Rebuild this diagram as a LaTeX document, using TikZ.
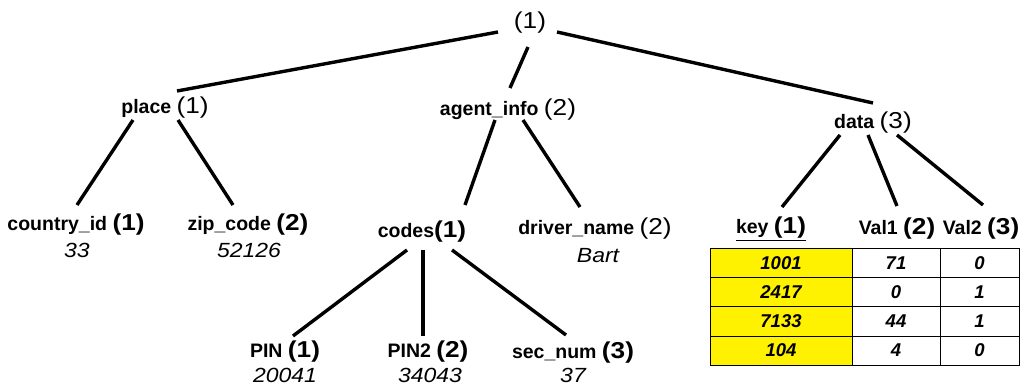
\documentclass[tikz,border=0pt]{standalone}
\usepackage{fontspec}
\setmainfont{Liberation Sans}
\usepackage{graphicx}
\newcommand\pnum[1]{{\fontsize{23}{26}\selectfont\mdseries\scalebox{1.14}[1]{#1}}}
\newcommand\pbold[1]{{\fontsize{23}{26}\selectfont\bfseries\scalebox{1.14}[1]{#1}}}
\newcommand\vtext[1]{\scalebox{1.12}[1]{#1}}
\tikzset{
  lab/.style={inner sep=0pt, font=\fontsize{19.5}{22}\selectfont\bfseries},
  val/.style={inner sep=0pt, font=\fontsize{20.5}{23}\selectfont\itshape},
  edge/.style={line width=3.4pt, black},
  cell/.style={draw=black, line width=1pt, inner sep=0pt, minimum height=29pt,
    font=\fontsize{18.5}{20}\selectfont\bfseries\itshape},
}
\begin{document}
\begin{tikzpicture}[x=1pt,y=-1pt]
\useasboundingbox (0,0) rectangle (1020,387);
% nodes
\node[inner sep=0pt] (root) at (530,23) {\pnum{(1)}};
\node[lab] (place) at (165,108) {place \pnum{(1)}};
\node[lab] (agent) at (508,110) {agent\_info \pnum{(2)}};
\node[lab] (data) at (873,123) {data \pnum{(3)}};
\node[lab] (country) at (76,225) {country\_id \pbold{(1)}};
\node[val] (countryv) at (77,250) {\vtext{33}};
\node[lab] (zip) at (248,225) {zip\_code \pbold{(2)}};
\node[val] (zipv) at (249,250) {\vtext{52126}};
\node[lab] (codes) at (422,232) {codes\pbold{(1)}};
\node[lab] (driver) at (595,229) {driver\_name \pnum{(2)}};
\node[val] (driverv) at (598,256) {\vtext{Bart}};
\node[lab] (key) at (771,229) {\underline{key \pbold{(1)}}};
\node[lab] (val1) at (897,229) {Val1 \pbold{(2)}};
\node[lab] (val2) at (981,229) {Val2 \pbold{(3)}};
\node[lab] (pin) at (285,352) {PIN \pbold{(1)}};
\node[val] (pinv) at (285,375) {\vtext{20041}};
\node[lab] (pintwo) at (428,352) {PIN2 \pbold{(2)}};
\node[val] (pintwov) at (430,375) {\vtext{34043}};
\node[lab] (sec) at (573,353) {sec\_num \pbold{(3)}};
\node[val] (secv) at (573,375) {\vtext{37}};
% edges
\draw[edge] ([shift={(-32,9)}]root.center) -- ([shift={(12,-17)}]place.center);
\draw[edge] ([shift={(-2,24)}]root.center) -- ([shift={(2,-22)}]agent.center);
\draw[edge] ([shift={(27,9)}]root.center) -- ([shift={(0,-20)}]data.center);
\draw[edge] ([shift={(-32,12)}]place.center) -- ([shift={(1,-20)}]country.center);
\draw[edge] ([shift={(13,12)}]place.center) -- ([shift={(-15,-20)}]zip.center);
\draw[edge] ([shift={(-13,10)}]agent.center) -- ([shift={(43,-27)}]codes.center);
\draw[edge] ([shift={(15,10)}]agent.center) -- ([shift={(-15,-22)}]driver.center);
\draw[edge] ([shift={(-33,12)}]data.center) -- ([shift={(11,-22)}]key.center);
\draw[edge] ([shift={(-5,12)}]data.center) -- ([shift={(0,-23)}]val1.center);
\draw[edge] ([shift={(24,12)}]data.center) -- ([shift={(2,-24)}]val2.center);
\draw[edge] ([shift={(-15,18)}]codes.center) -- ([shift={(8,-16)}]pin.center);
\draw[edge] ([shift={(1,18)}]codes.center) -- ([shift={(-5,-16)}]pintwo.center);
\draw[edge] ([shift={(30,18)}]codes.center) -- ([shift={(-7,-18)}]sec.center);
% table
\foreach \k/\a/\b [count=\i] in {1001/71/0, 2417/0/1, 7133/44/1, 104/4/0} {
  \pgfmathsetmacro\yy{249+29*\i-14.5}
  \node[cell, fill=yellow, minimum width=142pt] (k\i) at (781,\yy) {\k};
  \node[cell, minimum width=88pt] (a\i) at (896,\yy) {\a};
  \node[cell, minimum width=79pt] (b\i) at (979.5,\yy) {\b};
}
\end{tikzpicture}
\end{document}
